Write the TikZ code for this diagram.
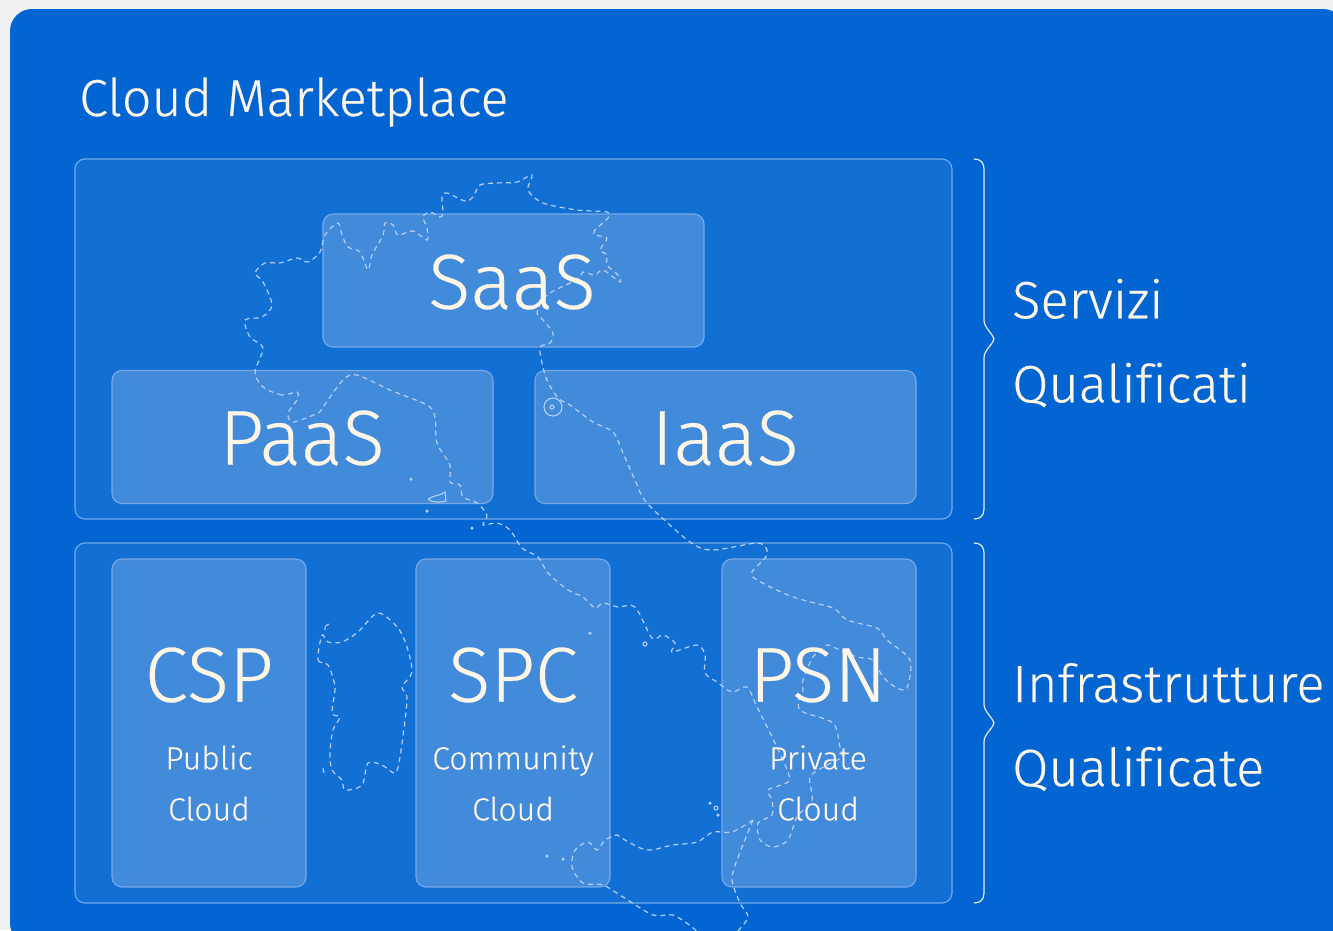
\documentclass[tikz,border=0pt]{standalone}
\usepackage{fontspec}
\usepackage{xcolor}
\setmainfont{Fira Sans Light}[Ligatures=NoCommon,FakeBold=0.35]
\definecolor{pagegrey}{RGB}{240,241,242}
\definecolor{cloudblue}{RGB}{3,101,209}
\definecolor{tierblue}{RGB}{18,112,212}
\definecolor{cardblue}{RGB}{66,138,218}
\definecolor{edgeblue}{RGB}{120,170,232}
\definecolor{mapblue}{RGB}{180,208,242}
\definecolor{cream}{RGB}{253,245,230}
\tikzset{
  tier/.style={draw=edgeblue, fill=tierblue, line width=1.1pt, rounded corners=10pt, inner sep=0pt, minimum width=877pt, minimum height=360pt},
  wide/.style={draw=edgeblue, fill=cardblue, line width=1.1pt, rounded corners=10pt, inner sep=0pt, minimum width=381pt, minimum height=133pt},
  tall/.style={draw=edgeblue, fill=cardblue, line width=1.1pt, rounded corners=10pt, inner sep=0pt, minimum width=194pt, minimum height=328pt},
  coast/.style={draw=mapblue, line width=1.2pt, dash pattern=on 5pt off 4pt},
  isle/.style={draw=mapblue, line width=1.1pt},
  speck/.style={fill=mapblue, circle, inner sep=0pt, minimum size=3.5pt},
  brace/.style={draw=cream!85!edgeblue, line width=1.2pt},
  title/.style={text=cream, inner sep=0pt, font=\fontsize{52}{60}\selectfont},
  big/.style={text=cream, inner sep=0pt, font=\fontsize{78}{80}\selectfont},
  small/.style={text=cream, inner sep=0pt, align=center, font=\fontsize{32}{51}\selectfont},
  side/.style={text=cream, inner sep=0pt, align=left, font=\fontsize{52.5}{84}\selectfont}
}
\begin{document}
\begin{tikzpicture}[x=1pt,y=-1pt]
\useasboundingbox (0,0) rectangle (1333,930);
\fill[pagegrey] (0,0) rectangle (1333,930);
\fill[cloudblue, rounded corners=22pt] (10,9) rectangle (1345,945);

  \node[tier]  (Services) at (513.5,339) {};
  \node[tier]  (Infra)    at (513.5,723) {};
  \node[wide]  (SaaS)     at (513.5,280.5) {};
  \node[wide]  (PaaS)     at (302.5,437) {};
  \node[wide]  (IaaS)     at (725.5,437) {};
  \node[tall]  (CSP)      at (209,723) {};
  \node[tall]  (SPC)      at (513,723) {};
  \node[tall]  (PSN)      at (819,723) {};

  % mainland
  \draw[coast] plot[smooth cycle] coordinates {
    (297,392) (282,395) (263,387) (255,372) (263,348) (250,337) (245,320) (262,317)
    (272,305) (263,282) (255,273) (265,263) (280,263) (297,258) (308,262) (320,252)
    (325,235) (338,223) (342,235) (348,247) (360,252) (368,270) (372,255) (383,235)
    (385,223) (393,225) (398,235) (413,231) (427,240) (427,228) (423,217) (430,212)
    (440,217) (443,213) (442,197) (447,193) (465,201) (473,197) (480,185) (497,183)
    (517,182) (532,175) (528,190) (543,203) (577,210) (607,212) (608,218) (595,230)
    (595,235) (607,238) (600,250) (607,255) (607,265) (618,275) (620,282) (603,270)
    (595,275) (583,272) (580,277) (570,283) (547,295) (537,312) (543,320) (553,333)
    (550,343) (540,347) (542,363) (547,380) (558,398) (570,405) (593,422) (613,432)
    (623,453) (635,480) (647,503) (690,542) (713,550) (757,543) (767,550) (765,558)
    (752,572) (757,580) (793,597) (833,608) (847,620) (877,628) (887,640) (910,660)
    (907,688) (897,688) (883,677) (873,660) (857,657) (833,647) (827,645) (813,657)
    (803,680) (803,690) (798,703) (803,712) (833,723) (840,747) (842,757) (827,765)
    (810,777) (812,800) (797,817) (788,840) (773,847) (760,840) (758,823) (772,815)
    (772,800) (768,790) (788,782) (788,772) (775,743) (757,707) (747,687) (732,692)
    (717,682) (705,673) (705,655) (697,645) (672,652) (675,643) (663,635) (652,638)
    (635,607) (618,607) (603,603) (595,608) (583,597) (568,590) (548,573) (538,557)
    (522,548) (510,530) (497,523) (483,525) (487,515) (477,503) (463,497) (460,485)
    (450,482) (450,465) (437,443) (435,417) (427,405) (390,390) (357,375) (343,380)
    (323,407) (318,413) (293,422) (288,413) (297,400)};

  % sicily
  \draw[coast] plot[smooth] coordinates {
    (753,820) (732,832) (713,832) (697,842) (673,845) (647,850) (625,840) (617,835)
    (605,840) (597,850) (588,842) (575,850) (572,867) (583,883) (603,885) (623,897)
    (653,915) (673,915) (692,927) (700,935)};
  \draw[coast] plot[smooth] coordinates {
    (753,820) (737,860) (732,880) (740,903) (748,917) (737,932)};

  % sardinia
  \draw[coast] plot[smooth cycle] coordinates {
    (322,635) (318,660) (328,665) (335,687) (332,713) (340,717) (333,730) (330,753)
    (332,770) (342,780) (345,790) (362,785) (368,763) (382,765) (395,773) (400,757)
    (407,700) (402,687) (412,672) (407,647) (398,628) (378,613) (358,632) (342,642)
    (328,642)};

  % small islands
  \draw[isle] (325,630) .. controls (325,626) .. (329,624);
  \draw[isle] (323,768) -- (324,773);
  \draw[isle] (428,499) .. controls (434,495) and (440,496) .. (445,492) -- (446,501) .. controls (438,503) and (431,502) .. (428,499);
  \node[isle, circle, inner sep=0pt, minimum size=18pt] (Ponza) at (553,407) {};
  \node[isle, circle, inner sep=0pt, minimum size=4pt]  (Nisida) at (552,407) {};
  \node[isle, circle, inner sep=0pt, minimum size=4pt]  (Ustica) at (645,644) {};
  \node[isle, circle, inner sep=0pt, minimum size=4pt]  (Lipari) at (716,808) {};
  \node[speck] (Isle1) at (411,479) {};
  \node[speck] (Isle2) at (427,511) {};
  \node[speck] (Isle3) at (472,528) {};
  \node[speck] (Isle4) at (590,633) {};
  \node[speck] (Isle5) at (710,803) {};
  \node[speck] (Isle6) at (718,815) {};
  \node[speck] (Isle7) at (547,856) {};
  \node[speck] (Isle8) at (563,859) {};

  % labels
  \node[title, anchor=west] (Market) at (79,102) {Cloud Marketplace};
  \node[big] (SaaSName) at (512,282) {SaaS};
  \node[big] (PaaSName) at (302,438) {PaaS};
  \node[big] (IaaSName) at (725,438) {IaaS};
  \node[big] (CSPName) at (209,675) {CSP};
  \node[big] (SPCName) at (513,675) {SPC};
  \node[big] (PSNName) at (818,675) {PSN};
  \node[small] (CSPText) at (209,783) {Public\\Cloud};
  \node[small] (SPCText) at (513,783) {Community\\Cloud};
  \node[small] (PSNText) at (818,783) {Private\\Cloud};
  \node[side, anchor=west] (ServText)  at (1012,343) {Servizi\\Qualificati};
  \node[side, anchor=west] (InfraText) at (1012,727) {Infrastrutture\\Qualificate};

  % braces
  \draw[brace] (974,159) .. controls (980,159) and (984,162) .. (984,169) -- (984,320)
    .. controls (984,328) and (991,331) .. (994,339) .. controls (991,347) and (984,350) .. (984,358)
    -- (984,509) .. controls (984,516) and (980,519) .. (974,519);
  \draw[brace] (974,543) .. controls (980,543) and (984,546) .. (984,553) -- (984,704)
    .. controls (984,712) and (991,715) .. (994,723) .. controls (991,731) and (984,734) .. (984,742)
    -- (984,893) .. controls (984,900) and (980,903) .. (974,903);
\end{tikzpicture}
\end{document}
